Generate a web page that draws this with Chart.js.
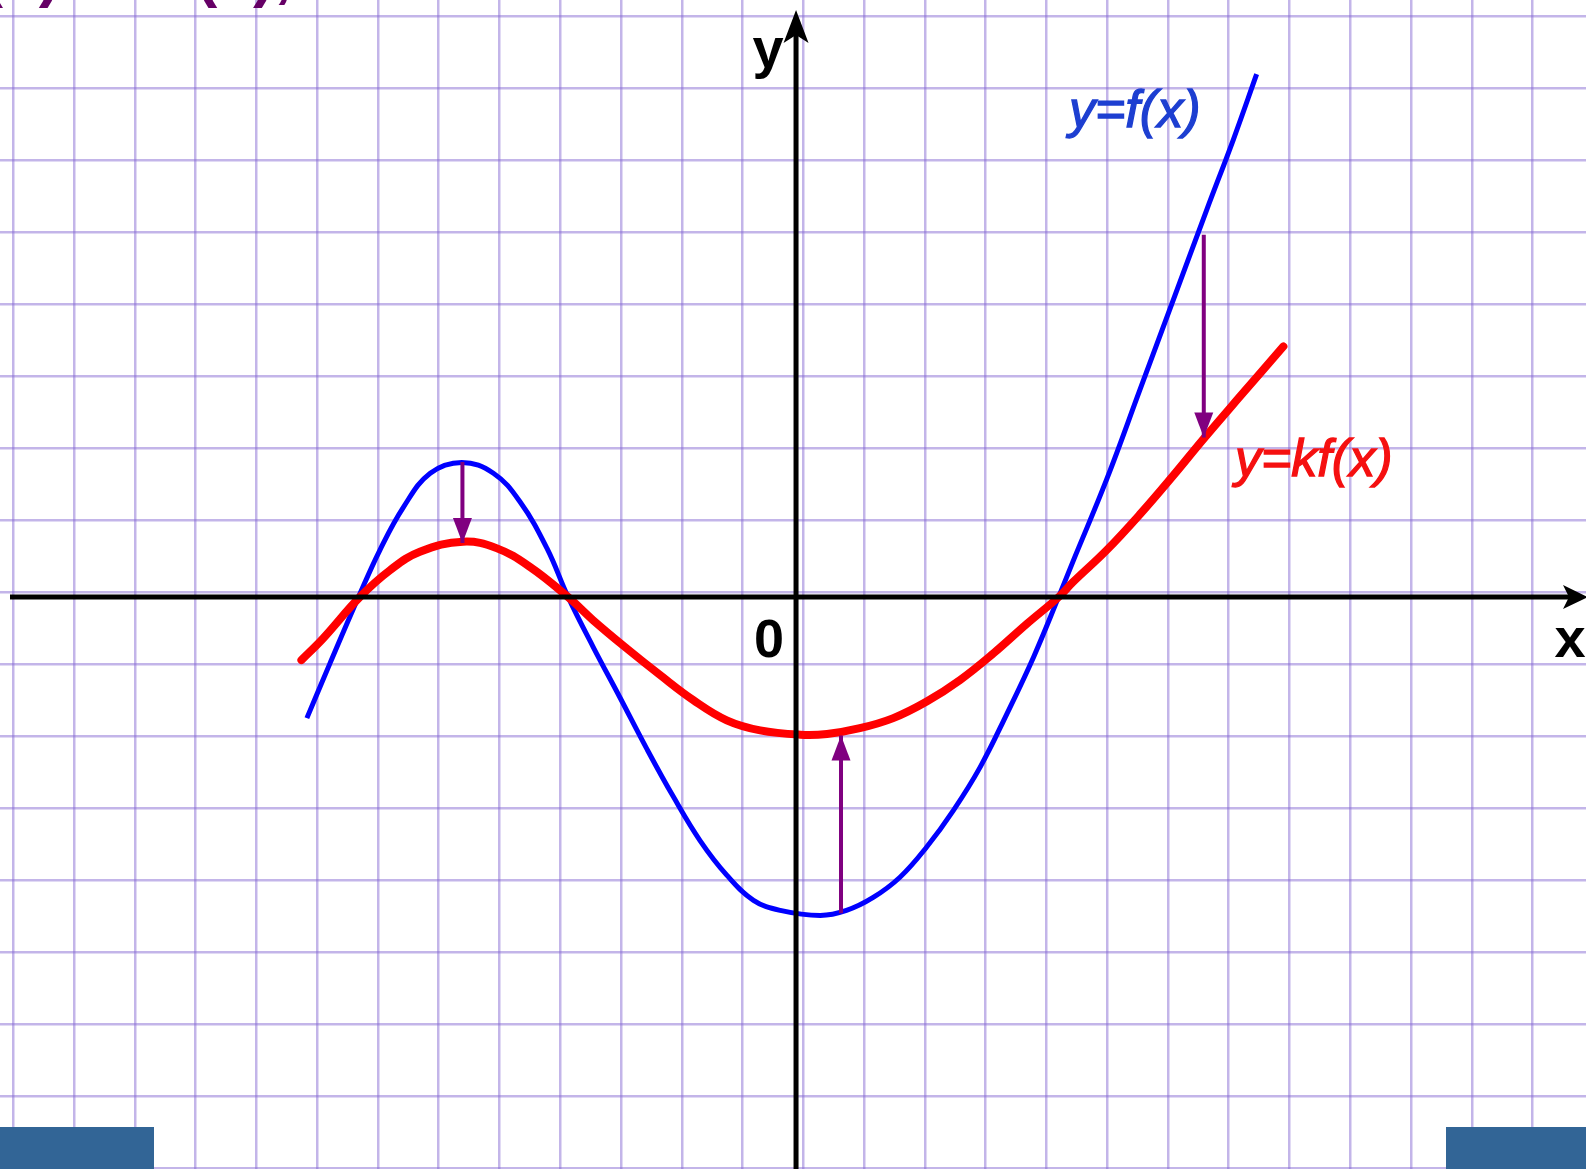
<!DOCTYPE html>
<html>
<head>
<meta charset="utf-8">
<script src="https://cdn.jsdelivr.net/npm/chart.js@4.4.1/dist/chart.umd.min.js"></script>
<style>
  html, body { margin: 0; padding: 0; background: #fff; }
  canvas { display: block; }
</style>
</head>
<body>
<canvas id="graph" width="1586" height="1169"></canvas>
<script>
// one unit = one grid cell, origin where the axes cross

// y = f(x)
const blueX = [-8.05, -7.67, -7.20, -6.85, -6.46, -6.02, -5.50, -4.98, -4.54, -4.10, -3.75, -3.34, -2.90, -2.46, -2.02, -1.58, -1.14, -0.70, -0.26, 0.40, 0.83, 1.27, 1.71, 2.15, 2.59, 3.03, 3.47, 3.91, 4.32, 4.56, 5.11, 5.66, 6.21, 6.76, 7.20, 7.58];
const blueY = [-1.68, -0.92, 0.00, 0.65, 1.25, 1.72, 1.87, 1.72, 1.32, 0.68, 0.00, -0.69, -1.39, -2.10, -2.77, -3.38, -3.86, -4.21, -4.35, -4.42, -4.35, -4.17, -3.89, -3.47, -2.96, -2.36, -1.62, -0.83, 0.00, 0.50, 1.63, 2.88, 4.13, 5.38, 6.36, 7.26];

// y = kf(x)
const redX = [-8.14, -7.78, -7.18, -6.68, -6.19, -5.48, -4.93, -4.38, -3.75, -3.34, -2.79, -2.24, -1.69, -1.14, -0.59, 0.07, 0.51, 1.05, 1.60, 2.15, 2.70, 3.25, 3.80, 4.32, 4.56, 5.11, 5.66, 6.21, 6.70, 7.31, 8.02];
const redY = [-0.875, -0.57, 0.00, 0.375, 0.63, 0.77, 0.68, 0.42, 0.00, -0.32, -0.71, -1.08, -1.43, -1.71, -1.85, -1.91, -1.90, -1.82, -1.68, -1.45, -1.15, -0.78, -0.37, 0.00, 0.21, 0.65, 1.15, 1.69, 2.19, 2.79, 3.48];

// purple arrows from f(x) to kf(x)
const arrowX = [-5.49, 0.74, 6.71];
const arrowFrom = [1.875, -4.39, 5.03];
const arrowTo = [0.75, -1.92, 2.215];

const xRange = [-13.1, 13.0];
const yRange = [-7.94, 8.29];

// grid paper lines, slightly off the axes
const gridX = [];
for (let n = -13; n <= 12; n++) gridX.push(n + 0.12);
const gridY = [];
for (let n = -8; n <= 8; n++) gridY.push(n + 0.07);

const gridColor = 'rgba(130, 100, 210, 0.48)';

function arrowHead(ctx, tx, ty, dx, dy, len, half, notch) {
  const bx = tx - dx * len, by = ty - dy * len;
  const px = -dy, py = dx;
  ctx.beginPath();
  ctx.moveTo(tx, ty);
  ctx.lineTo(bx + px * half, by + py * half);
  ctx.lineTo(tx - dx * (len - notch), ty - dy * (len - notch));
  ctx.lineTo(bx - px * half, by - py * half);
  ctx.closePath();
  ctx.fill();
}

function boldText(ctx, text, x, y, color) {
  ctx.fillStyle = color;
  ctx.strokeStyle = color;
  ctx.lineWidth = 1.3;
  ctx.fillText(text, x, y);
  ctx.strokeText(text, x, y);
}

const drawing = {
  id: 'drawing',
  afterDatasetsDraw(chart) {
    const { ctx, scales: { x, y } } = chart;
    const ox = x.getPixelForValue(0);
    const oy = y.getPixelForValue(0);
    ctx.save();

    // arrow heads for the purple arrows
    ctx.fillStyle = '#800080';
    arrowX.forEach((ax, i) => {
      const tx = x.getPixelForValue(ax);
      const ty = y.getPixelForValue(arrowTo[i]);
      const dir = arrowTo[i] < arrowFrom[i] ? 1 : -1;
      arrowHead(ctx, tx, ty, 0, dir, 25, 9.5, 0);
    });

    // axes
    ctx.strokeStyle = '#000';
    ctx.lineWidth = 5;
    ctx.beginPath();
    ctx.moveTo(10, oy);
    ctx.lineTo(1572, oy);
    ctx.moveTo(ox, chart.height);
    ctx.lineTo(ox, 30);
    ctx.stroke();
    ctx.fillStyle = '#000';
    arrowHead(ctx, ox, 10, 0, -1, 33, 12.5, 8);
    arrowHead(ctx, 1588, oy, 1, 0, 25, 12, 6);

    // axis labels
    ctx.textAlign = 'center';
    ctx.textBaseline = 'alphabetic';
    ctx.font = 'bold 56px "Liberation Sans", Arial, sans-serif';
    ctx.fillText('y', ox - 28, 67);
    ctx.fillText('x', 1570, oy + 60);
    ctx.font = 'bold 54px "Liberation Sans", Arial, sans-serif';
    ctx.fillText('0', ox - 27, oy + 60);

    // curve labels
    ctx.textAlign = 'left';
    ctx.font = 'italic 52px "Liberation Sans", Arial, sans-serif';
    boldText(ctx, 'y=f(x)', 1069, 127, '#1d3fd1');
    boldText(ctx, 'y=kf(x)', 1235, 476, '#f51010');

    // title cut off at the top
    ctx.fillStyle = '#660066';
    ctx.font = 'bold 64px "Liberation Sans", Arial, sans-serif';
    ctx.textAlign = 'right';
    ctx.fillText('f(x)', 60, -5);
    ctx.textAlign = 'left';
    const kw = ctx.measureText('k').width + ctx.measureText('f').width;
    ctx.fillText('kf(x),', 196 - kw, -5);

    // slide buttons at the bottom corners
    ctx.fillStyle = '#326596';
    ctx.fillRect(0, 1127, 154, 42);
    ctx.fillRect(1446, 1127, 140, 42);

    ctx.restore();
  }
};

const line = (xs, ys) => xs.map((v, i) => ({ x: v, y: ys[i] }));

new Chart(document.getElementById('graph'), {
  type: 'scatter',
  data: {
    datasets: [
      ...arrowX.map((ax, i) => ({
        data: [{ x: ax, y: arrowFrom[i] }, { x: ax, y: arrowTo[i] }],
        showLine: true, borderColor: '#800080', borderWidth: 4, pointRadius: 0, order: 1
      })),
      { label: 'y=kf(x)', data: line(redX, redY), showLine: true, borderColor: '#ff0000', borderWidth: 8,
        pointRadius: 0, tension: 0.4, borderCapStyle: 'round', order: 2 },
      { label: 'y=f(x)', data: line(blueX, blueY), showLine: true, borderColor: '#0000ff', borderWidth: 5,
        pointRadius: 0, tension: 0.4, order: 3 }
    ]
  },
  options: {
    responsive: false,
    animation: false,
    layout: { padding: 0 },
    plugins: { legend: { display: false }, tooltip: { enabled: false } },
    scales: {
      x: {
        type: 'linear', min: xRange[0], max: xRange[1],
        afterBuildTicks: s => { s.ticks = gridX.map(v => ({ value: v })); },
        ticks: { display: false },
        grid: { color: gridColor, lineWidth: 2.5, drawTicks: false },
        border: { display: false }
      },
      y: {
        type: 'linear', min: yRange[0], max: yRange[1],
        afterBuildTicks: s => { s.ticks = gridY.map(v => ({ value: v })); },
        ticks: { display: false },
        grid: { color: gridColor, lineWidth: 2.5, drawTicks: false },
        border: { display: false }
      }
    }
  },
  plugins: [drawing]
});
</script>
</body>
</html>
